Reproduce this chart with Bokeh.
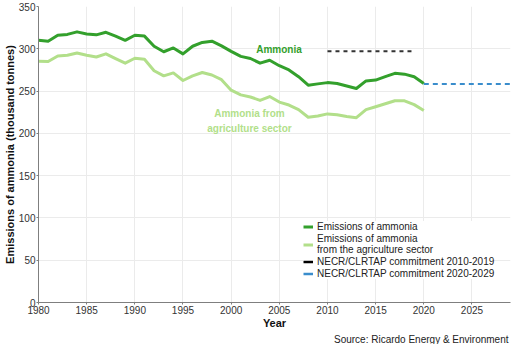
from bokeh.plotting import figure
from bokeh.models import Range1d, FixedTicker, Legend, LegendItem, Title
from bokeh.core.properties import value
from bokeh.embed import file_html
from bokeh.resources import INLINE

years = list(range(1980, 2021))
ammonia = [310, 309, 316, 317, 320, 317.5, 316.5, 319.5, 315, 310,
           316, 315, 303, 296.5, 301, 294, 303, 307.5, 309, 303.5,
           297, 291, 288.5, 283, 286.5, 280, 275, 267, 257, 258.5,
           260, 259, 256, 253, 262, 263, 267, 271, 270, 267, 259]
agriculture = [285.3, 284.9, 291.5, 292.3, 295, 292.3, 290.3, 294, 288.4, 283,
               288.8, 287.6, 274, 268, 271.5, 262.5, 268, 272, 269, 263.5,
               251, 245.5, 243, 239, 243.5, 237, 233.5, 228, 219, 220.5,
               223, 222, 220, 218.5, 228, 231.5, 235, 238.5, 238.5, 234, 227]
commit1_years = [2010, 2019]
commit1_value = [297, 297]
commit2_years = [2020, 2029]
commit2_value = [258.3, 258.3]
x_ticks = [1980, 1985, 1990, 1995, 2000, 2005, 2010, 2015, 2020, 2025]
y_ticks = [0, 50, 100, 150, 200, 250, 300, 350]

FONT = "Liberation Sans"
DARK = "#33a02c"
LIGHT = "#b2df8a"
BLUE = "#3a8dcc"

p = figure(width=514, height=344, output_backend="svg", toolbar_location=None,
           x_range=Range1d(1980, 2029), y_range=Range1d(0, 350),
           min_border_left=0, min_border_right=4, min_border_top=6, min_border_bottom=0)
p.outline_line_color = None
p.background_fill_color = "white"

for ax in (p.xaxis[0], p.yaxis[0]):
    ax.axis_line_color = "#7f7f7f"
    ax.major_tick_line_color = "#7f7f7f"
    ax.major_tick_out = 2
    ax.major_tick_in = 0
    ax.minor_tick_out = 0
    ax.minor_tick_in = 0
    ax.major_label_text_font = FONT
    ax.major_label_text_font_size = "10px"
    ax.major_label_text_color = "#333333"
    ax.axis_label_text_font = FONT
    ax.axis_label_text_font_size = "11px"
    ax.axis_label_text_font_style = "bold"
    ax.axis_label_text_color = "#111111"
    ax.major_label_standoff = 1
    ax.axis_label_standoff = 0

p.xaxis.ticker = FixedTicker(ticks=x_ticks)
p.yaxis.ticker = FixedTicker(ticks=y_ticks)
p.xaxis.axis_label = "Year"
p.yaxis.axis_label = "Emissions of ammonia (thousand tonnes)"
p.xgrid.ticker = FixedTicker(ticks=x_ticks)
p.ygrid.ticker = FixedTicker(ticks=y_ticks)
p.xgrid.grid_line_color = "#ebebeb"
p.ygrid.grid_line_color = "#ebebeb"

r_agri = p.line(years, agriculture, line_color=LIGHT, line_width=3, line_join="round")
r_amm = p.line(years, ammonia, line_color=DARK, line_width=3, line_join="round")
p.line(commit1_years, commit1_value, line_color="#333333", line_width=2, line_dash="4 4")
p.line(commit2_years, commit2_value, line_color=BLUE, line_width=2, line_dash="5 4")
# solid stand-ins for legend glyphs
l1 = p.line(commit1_years, commit1_value, line_color="black", line_width=2.5, visible=False)
l2 = p.line(commit2_years, commit2_value, line_color=BLUE, line_width=2.5, visible=False)

p.text(x=[2002.6], y=[299.3], text=["Ammonia"], text_color=DARK, text_font=value(FONT),
       text_font_size="10px", text_font_style="bold", text_align="left", text_baseline="middle")
p.text(x=[2001.9], y=[214.5], text=["Ammonia from\nagriculture sector"], text_color=LIGHT,
       text_font=value(FONT), text_font_size="10px", text_font_style="bold",
       text_align="center", text_baseline="middle", text_line_height=1.35)

legend = Legend(items=[
    LegendItem(label="Emissions of ammonia", renderers=[r_amm]),
    LegendItem(label="Emissions of ammonia\nfrom the agriculture sector", renderers=[r_agri]),
    LegendItem(label="NECR/CLRTAP commitment 2010-2019", renderers=[l1]),
    LegendItem(label="NECR/CLRTAP commitment 2020-2029", renderers=[l2]),
], location=(265, 23))
legend.label_text_font = FONT
legend.label_text_font_size = "10px"
legend.label_text_color = "#222222"
legend.label_text_line_height = 0.95
legend.glyph_width = 10
legend.glyph_height = 11
legend.label_height = 11
legend.label_standoff = 4
legend.spacing = 1
legend.padding = 2
legend.margin = 0
legend.border_line_color = None
legend.background_fill_color = "white"
legend.background_fill_alpha = 1
p.add_layout(legend)

src = Title(text="Source: Ricardo Energy & Environment", align="right",
            text_font=FONT, text_font_size="10px", text_font_style="normal",
            text_color="#222222", standoff=0, offset=2)
p.add_layout(src, "below")

open("out.html", "w").write(file_html(p, INLINE))
